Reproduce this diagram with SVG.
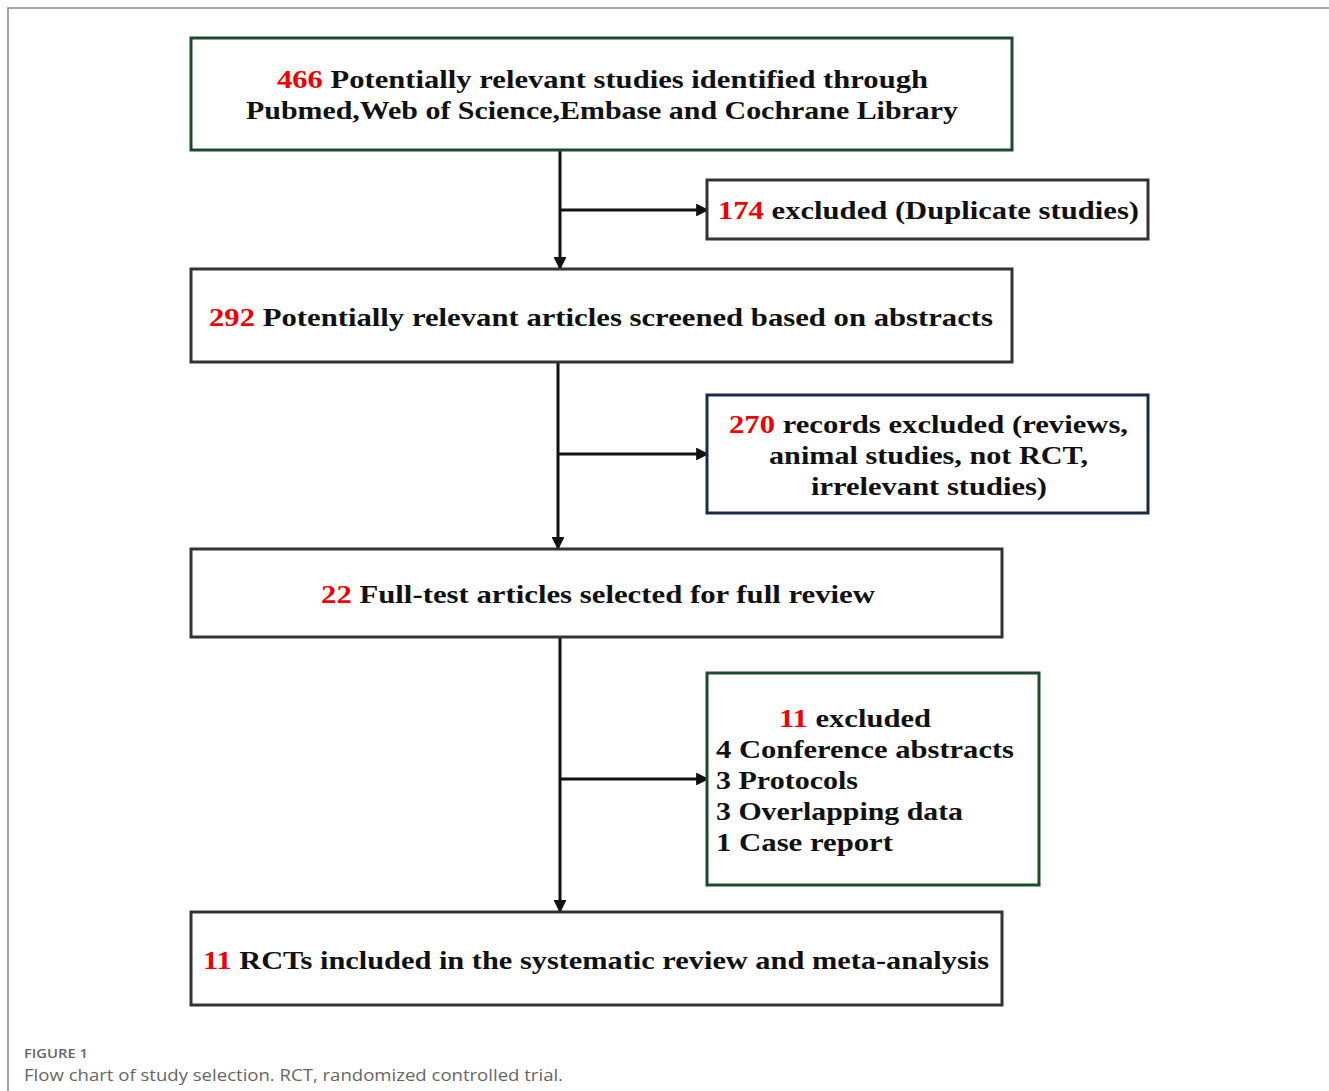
<svg xmlns="http://www.w3.org/2000/svg" width="1329" height="1091" viewBox="0 0 1329 1091">
<style>
.bx{fill:#fff;stroke-width:3}
.g{stroke:#1d4a2e}
.k{stroke:#333}
.n{stroke:#1c2a4a}
.t{font-family:"Liberation Serif","Times New Roman",serif;font-weight:bold;font-size:26px;fill:#111}
.r{fill:#f00000}
.c{stroke:#111;stroke-width:3;fill:none}
.cap1{font-family:"Open Sans","Noto Sans",sans-serif;font-size:13px;font-weight:600;fill:#666}
.cap2{font-family:"Open Sans","Noto Sans",sans-serif;font-size:17px;fill:#666}
</style>
<defs>
<marker id="ah" viewBox="0 0 10 10" refX="10" refY="5" markerWidth="5" markerHeight="4.3" markerUnits="strokeWidth" orient="auto">
<path d="M0,0 L10,5 L0,10 Z" fill="#111"/>
</marker>
</defs>
<rect width="1329" height="1091" fill="#fff"/>
<path d="M8,1091 L8,8 L1329,8" fill="none" stroke="#888" stroke-width="1.5"/>
<g id="connectors">
<path class="c" d="M560,150 L560,270" marker-end="url(#ah)"/>
<path class="c" d="M560,210 L709,210" marker-end="url(#ah)"/>
<path class="c" d="M558,362 L558,550" marker-end="url(#ah)"/>
<path class="c" d="M558,454 L709,454" marker-end="url(#ah)"/>
<path class="c" d="M560,637 L560,913" marker-end="url(#ah)"/>
<path class="c" d="M560,779 L709,779" marker-end="url(#ah)"/>
</g>
<g id="n1">
<rect class="bx g" x="191" y="38" width="821" height="112"/>
<text class="t" x="277" y="88" textLength="651" lengthAdjust="spacingAndGlyphs"><tspan class="r">466</tspan> Potentially relevant studies identified  through</text>
<text class="t" x="246" y="119" textLength="712" lengthAdjust="spacingAndGlyphs">Pubmed,Web of Science,Embase and Cochrane Library</text>
</g>
<g id="n2">
<rect class="bx k" x="707" y="180" width="441" height="59"/>
<text class="t" x="718" y="219" textLength="421" lengthAdjust="spacingAndGlyphs"><tspan class="r">174</tspan> excluded (Duplicate studies)</text>
</g>
<g id="n3">
<rect class="bx k" x="191" y="269" width="821" height="93"/>
<text class="t" x="209" y="326" textLength="784" lengthAdjust="spacingAndGlyphs"><tspan class="r">292</tspan> Potentially relevant articles screened based on abstracts</text>
</g>
<g id="n4">
<rect class="bx n" x="707" y="395" width="441" height="118"/>
<text class="t" x="729" y="433" textLength="399" lengthAdjust="spacingAndGlyphs"><tspan class="r">270</tspan> records excluded (reviews,</text>
<text class="t" x="769" y="464" textLength="319" lengthAdjust="spacingAndGlyphs">animal studies, not RCT,</text>
<text class="t" x="811" y="495" textLength="236" lengthAdjust="spacingAndGlyphs">irrelevant studies)</text>
</g>
<g id="n5">
<rect class="bx k" x="191" y="549" width="811" height="88"/>
<text class="t" x="321" y="603" textLength="554" lengthAdjust="spacingAndGlyphs"><tspan class="r">22</tspan> Full-test articles selected for full review</text>
</g>
<g id="n6">
<rect class="bx g" x="707" y="673" width="332" height="212"/>
<text class="t" x="779" y="727" textLength="152" lengthAdjust="spacingAndGlyphs"><tspan class="r">11</tspan> excluded</text>
<text class="t" x="716" y="758" textLength="298" lengthAdjust="spacingAndGlyphs">4 Conference abstracts</text>
<text class="t" x="716" y="789" textLength="142" lengthAdjust="spacingAndGlyphs">3 Protocols</text>
<text class="t" x="716" y="820" textLength="247" lengthAdjust="spacingAndGlyphs">3 Overlapping data</text>
<text class="t" x="716" y="851" textLength="177" lengthAdjust="spacingAndGlyphs">1 Case report</text>
</g>
<g id="n7">
<rect class="bx k" x="191" y="912" width="811" height="93"/>
<text class="t" x="203" y="969" textLength="786" lengthAdjust="spacingAndGlyphs"><tspan class="r">11</tspan> RCTs included in the systematic review and meta-analysis</text>
</g>
<g id="caption">
<text class="cap1" x="24" y="1058" textLength="64" lengthAdjust="spacingAndGlyphs">FIGURE 1</text>
<text class="cap2" x="24" y="1081" textLength="539" lengthAdjust="spacingAndGlyphs">Flow chart of study selection. RCT, randomized controlled trial.</text>
</g>
</svg>
